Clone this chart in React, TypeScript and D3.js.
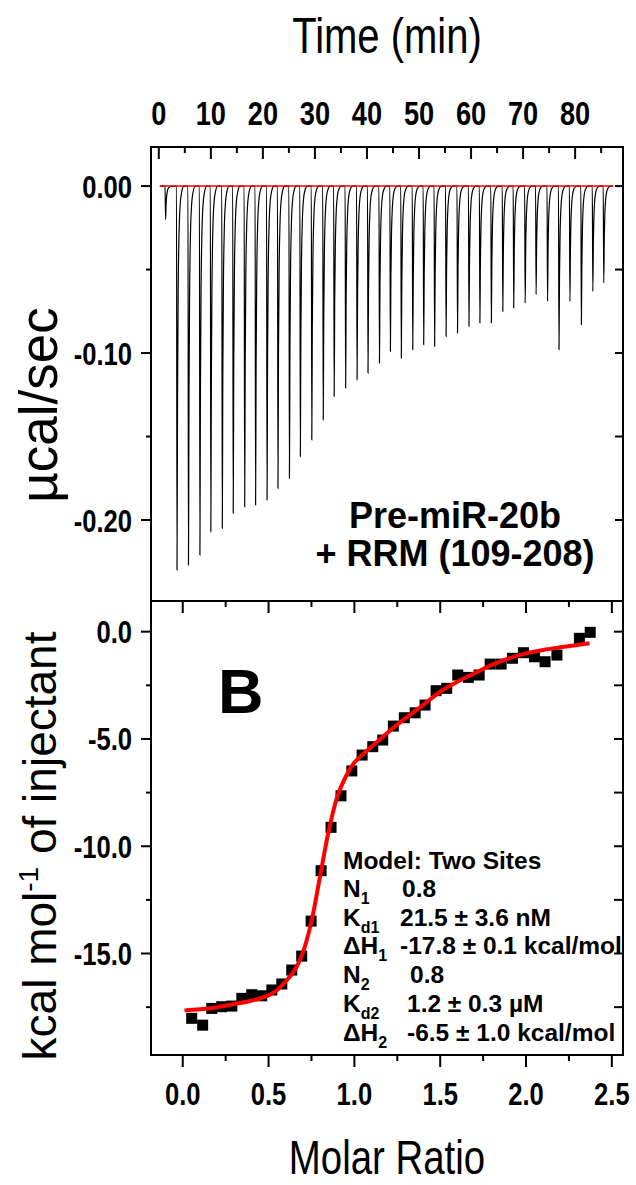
import React from "react";
import * as d3 from "d3";

const W = 636;
const H = 1185;

const SANS = "'Liberation Sans', Arial, sans-serif";

// ---- top panel: raw power per injection (µcal/sec) ----
const injTimes = [
  1.2, 3.4, 5.6, 7.8, 9.9, 12.1, 14.2, 16.4, 18.5, 20.7, 22.8, 25.0, 27.1, 29.3,
  31.5, 33.6, 35.8, 38.0, 40.1, 42.3, 44.4, 46.5, 48.7, 50.8, 52.9, 55.1, 57.3,
  59.5, 61.6, 63.8, 66.0, 68.1, 70.3, 72.4, 74.6, 76.8, 78.9, 81.1, 83.3, 85.4,
];
const injPeaks = [
  -0.02, -0.23, -0.227, -0.221, -0.207, -0.205, -0.196, -0.192, -0.191, -0.188,
  -0.181, -0.175, -0.162, -0.152, -0.14, -0.126, -0.121, -0.116, -0.112, -0.106,
  -0.099, -0.103, -0.098, -0.095, -0.096, -0.09, -0.088, -0.084, -0.082, -0.082,
  -0.075, -0.073, -0.07, -0.065, -0.069, -0.098, -0.069, -0.083, -0.063, -0.058,
];
// shape of one injection peak: [minutes after start, fraction of depth]
const peakProfile = [
  [0, 0], [0.1, 1], [0.2, 0.55], [0.32, 0.28], [0.48, 0.13], [0.7, 0.05], [1.0, 0.015], [1.4, 0],
];
const traceStart = 0.2;
const traceEnd = 87.3;
const timeMajor = [0, 10, 20, 30, 40, 50, 60, 70, 80];
const timeMinor = [5, 15, 25, 35, 45, 55, 65, 75, 85];
const powerMajor = [0, -0.1, -0.2];
const powerMinor = [-0.05, -0.15];

// ---- bottom panel: integrated heats ----
const molarRatio = [
  0.052, 0.116, 0.169, 0.227, 0.286, 0.344, 0.402, 0.46, 0.519, 0.577, 0.635,
  0.693, 0.748, 0.806, 0.864, 0.922, 0.985, 1.045, 1.107, 1.165, 1.227, 1.291,
  1.354, 1.412, 1.476, 1.538, 1.602, 1.664, 1.727, 1.791, 1.855, 1.921, 1.985,
  2.049, 2.111, 2.18, 2.311, 2.374,
];
const heat = [
  -18.02, -18.34, -17.56, -17.48, -17.45, -17.09, -16.92, -16.97, -16.7, -16.42,
  -15.77, -15.12, -13.49, -11.14, -9.12, -7.65, -6.49, -5.75, -5.36, -5.05, -4.4,
  -4.01, -3.78, -3.42, -2.75, -2.64, -2.02, -2.13, -2.02, -1.51, -1.51, -1.24,
  -0.98, -1.17, -1.4, -1.09, -0.31, -0.03,
];
const fitRatio = [
  0.01, 0.1, 0.2, 0.3, 0.4, 0.5, 0.55, 0.6, 0.65, 0.7, 0.75, 0.8, 0.85, 0.9, 0.95,
  1.0, 1.1, 1.2, 1.3, 1.4, 1.5, 1.6, 1.7, 1.8, 1.9, 2.0, 2.1, 2.2, 2.3, 2.37,
];
const fitHeat = [
  -17.65, -17.6, -17.5, -17.35, -17.2, -16.95, -16.7, -16.3, -15.8, -14.95, -13.5,
  -11.4, -9.3, -7.7, -6.75, -6.1, -5.36, -4.66, -4.02, -3.42, -2.8, -2.33, -1.94,
  -1.55, -1.24, -1.01, -0.85, -0.73, -0.62, -0.54,
];
const ratioMajor = [0, 0.5, 1.0, 1.5, 2.0, 2.5];
const ratioMinor = [0.25, 0.75, 1.25, 1.75, 2.25];
const heatMajor = [0, -5, -10, -15];
const heatMinor = [-2.5, -7.5, -12.5, -17.5];

const fitLines = [
  { label: "N", sub: "1", value: "0.8", vx: 402 },
  { label: "K", sub: "d1", value: "21.5 ± 3.6 nM", vx: 400 },
  { label: "ΔH", sub: "1", value: "-17.8 ± 0.1 kcal/mol", vx: 400 },
  { label: "N", sub: "2", value: "0.8", vx: 410 },
  { label: "K", sub: "d2", value: "1.2 ± 0.3 µM", vx: 407 },
  { label: "ΔH", sub: "2", value: "-6.5 ± 1.0 kcal/mol", vx: 407 },
];

const L = 151;
const R = 623;
const T = 147;
const M = 601;
const B = 1055;

// condensed text (no narrow font installed, so squeeze horizontally)
const NText = ({ x, y, size, bold = false, anchor = "middle", dy, sx = 0.8, children }: any) => (
  <text
    transform={`translate(${x},${y}) scale(${sx},1)`}
    textAnchor={anchor}
    fontFamily={SANS}
    fontWeight={bold ? "bold" : "normal"}
    fontSize={size}
    dy={dy}
  >
    {children}
  </text>
);

const fmt = (f: string) => (v: number) => d3.format(f)(v).replace("−", "-");

export default function App() {
  const xTime = d3.scaleLinear().domain([-1.5, 89.2]).range([L, R]);
  const yPow = d3.scaleLinear().domain([0.0234, -0.2485]).range([T, M]);
  const xRat = d3.scaleLinear().domain([-0.185, 2.565]).range([L, R]);
  const yHeat = d3.scaleLinear().domain([1.43, -19.73]).range([M, B]);

  // build thermogram trace from injections
  const trace: [number, number][] = [[traceStart, 0]];
  injTimes.forEach((t0, i) => {
    peakProfile.forEach(([dt, f]) => trace.push([t0 + dt, injPeaks[i] * f]));
  });
  trace.push([traceEnd, 0]);

  const traceLine = d3
    .line<[number, number]>()
    .x((d) => xTime(d[0]))
    .y((d) => yPow(d[1]))
    .curve(d3.curveMonotoneX);

  const fitLine = d3
    .line<number>()
    .x((d) => xRat(d))
    .y((_, i) => yHeat(fitHeat[i]))
    .curve(d3.curveCatmullRom);

  const tk = { stroke: "#000", strokeWidth: 2 };
  const sq = 11;

  return (
    <svg width={W} height={H} style={{ position: "absolute", left: 0, top: 0, background: "#fff" }}>
      <rect width={W} height={H} fill="#fff" />

      {/* titles */}
      <NText x={387} y={53} size={50}>Time (min)</NText>
      <NText x={387} y={1174} size={48}>Molar Ratio</NText>
      <text transform={`translate(57,${405}) rotate(-90)`} textAnchor="middle" fontFamily={SANS} fontSize={53}>
        µcal/sec
      </text>
      <text transform={`translate(56,${846}) rotate(-90)`} textAnchor="middle" fontFamily={SANS} fontSize={46}>
        kcal mol
        <tspan fontSize={28} dy={-18}>-1</tspan>
        <tspan dy={18}> of injectant</tspan>
      </text>

      {/* top panel */}
      <path d={traceLine(trace) || ""} fill="none" stroke="#000" strokeWidth={1.2} />
      <line x1={xTime(traceStart)} x2={xTime(traceEnd)} y1={yPow(0)} y2={yPow(0)} stroke="#ff0000" strokeWidth={1.6} />

      {timeMajor.map((t) => (
        <g key={"tm" + t}>
          <line x1={xTime(t)} x2={xTime(t)} y1={T} y2={T + 12} {...tk} />
          <NText x={xTime(t)} y={125} size={34} bold>{t}</NText>
        </g>
      ))}
      {timeMinor.map((t) => (
        <line key={"tn" + t} x1={xTime(t)} x2={xTime(t)} y1={T} y2={T + 6} {...tk} />
      ))}
      {powerMajor.map((v) => (
        <g key={"pm" + v}>
          <line x1={L - 10} x2={L} y1={yPow(v)} y2={yPow(v)} {...tk} />
          <line x1={R - 8} x2={R} y1={yPow(v)} y2={yPow(v)} {...tk} />
          <NText x={132} y={yPow(v)} dy="0.36em" anchor="end" size={32} bold>
            {fmt(".2f")(v)}
          </NText>
        </g>
      ))}
      {powerMinor.map((v) => (
        <g key={"pn" + v}>
          <line x1={L - 5} x2={L} y1={yPow(v)} y2={yPow(v)} {...tk} />
          <line x1={R - 8} x2={R} y1={yPow(v)} y2={yPow(v)} {...tk} />
        </g>
      ))}
      <text x={455} y={528} textAnchor="middle" fontFamily={SANS} fontWeight="bold" fontSize={36}>
        Pre-miR-20b
      </text>
      <text x={455} y={566} textAnchor="middle" fontFamily={SANS} fontWeight="bold" fontSize={36}>
        + RRM (109-208)
      </text>

      {/* bottom panel */}
      {ratioMajor.map((r) => (
        <g key={"rm" + r}>
          <line x1={xRat(r)} x2={xRat(r)} y1={M} y2={M + 12} {...tk} />
          <line x1={xRat(r)} x2={xRat(r)} y1={B} y2={B + 12} {...tk} />
          <NText x={xRat(r)} y={1105} size={32} bold>{fmt(".1f")(r)}</NText>
        </g>
      ))}
      {ratioMinor.map((r) => (
        <g key={"rn" + r}>
          <line x1={xRat(r)} x2={xRat(r)} y1={M} y2={M + 6} {...tk} />
          <line x1={xRat(r)} x2={xRat(r)} y1={B} y2={B + 6} {...tk} />
        </g>
      ))}
      {heatMajor.map((v) => (
        <g key={"hm" + v}>
          <line x1={L - 10} x2={L} y1={yHeat(v)} y2={yHeat(v)} {...tk} />
          <line x1={R - 9} x2={R} y1={yHeat(v)} y2={yHeat(v)} {...tk} />
          <NText x={132} y={yHeat(v)} dy="0.36em" anchor="end" size={32} bold>
            {fmt(".1f")(v)}
          </NText>
        </g>
      ))}
      {heatMinor.map((v) => (
        <g key={"hn" + v}>
          <line x1={L - 5} x2={L} y1={yHeat(v)} y2={yHeat(v)} {...tk} />
          <line x1={R - 9} x2={R} y1={yHeat(v)} y2={yHeat(v)} {...tk} />
        </g>
      ))}

      {molarRatio.map((r, i) => (
        <rect key={"p" + i} x={xRat(r) - sq / 2} y={yHeat(heat[i]) - sq / 2} width={sq} height={sq} fill="#000" />
      ))}
      <path d={fitLine(fitRatio) || ""} fill="none" stroke="#ff0000" strokeWidth={4} />

      <text x={218} y={713} fontFamily={SANS} fontWeight="bold" fontSize={63}>
        B
      </text>

      <g fontFamily={SANS} fontWeight="bold" fontSize={24.5}>
        <text x={343} y={869}>Model: Two Sites</text>
        {fitLines.map((l, i) => {
          const y = 897 + i * 28.7;
          return (
            <g key={"f" + i}>
              <text x={343} y={y}>
                {l.label}
                <tspan fontSize={16} dy={7}>{l.sub}</tspan>
              </text>
              <text x={l.vx} y={y}>{l.value}</text>
            </g>
          );
        })}
      </g>

      {/* frames */}
      <rect x={L} y={T} width={R - L} height={M - T} fill="none" stroke="#000" strokeWidth={2} />
      <rect x={L} y={M} width={R - L} height={B - M} fill="none" stroke="#000" strokeWidth={2} />
    </svg>
  );
}
